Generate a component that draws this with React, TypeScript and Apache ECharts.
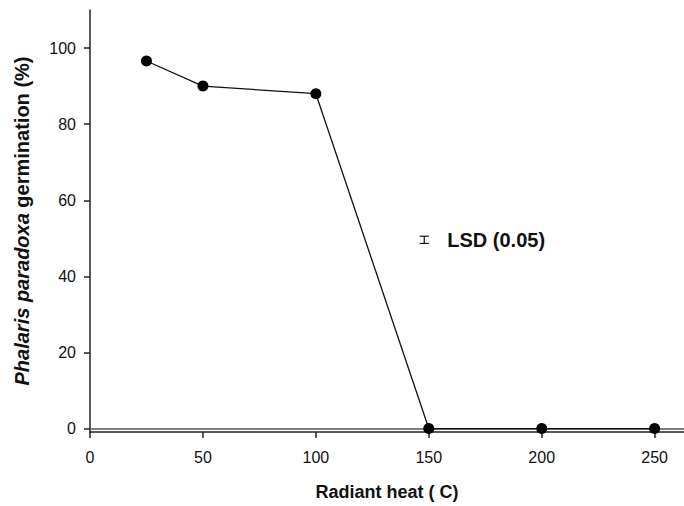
import React, { useEffect, useRef } from "react";
import * as echarts from "echarts";

const heat = [25, 50, 100, 150, 200, 250];
const germination = [96.6, 90.0, 88.0, 0, 0, 0];
const yTicks = [0, 20, 40, 60, 80, 100];
const xTicks = [0, 50, 100, 150, 200, 250];
const lsd = { x: 148, y: 49.6, half: 0.95, label: "LSD (0.05)" };

export default function App() {
  const ref = useRef<HTMLDivElement>(null);
  useEffect(() => {
    const chart = echarts.init(ref.current!, null, { renderer: "svg" });
    const font = "Liberation Sans, Arial, sans-serif";
    chart.setOption({
      animation: false,
      grid: { left: 90, right: 0, top: 10, bottom: 73.5 },
      xAxis: [
        {
          type: "value",
          min: 0,
          max: 263,
          axisLine: { show: true, onZero: false, lineStyle: { color: "#222", width: 1.5 } },
          axisTick: { show: true, length: 6, customValues: xTicks, lineStyle: { color: "#222", width: 1.5 } },
          axisLabel: { customValues: xTicks, fontSize: 16, color: "#111", fontFamily: font, margin: 17 },
          splitLine: { show: false },
          name: "Radiant heat ( C)",
          nameLocation: "middle",
          nameGap: 51,
          nameTextStyle: { fontSize: 18, fontWeight: "bold", color: "#111", fontFamily: font },
        },
        {
          type: "value",
          position: "top",
          min: 0,
          max: 263,
          axisLine: { show: true, lineStyle: { color: "#555", width: 1.5 } },
          axisTick: { show: false },
          axisLabel: { show: false },
          splitLine: { show: false },
        },
      ],
      yAxis: {
        type: "value",
        min: -0.9,
        max: 110,
        axisLine: { show: true, onZero: false, lineStyle: { color: "#222", width: 1.5 } },
        axisTick: { show: true, length: 6, customValues: yTicks, lineStyle: { color: "#222", width: 1.5 } },
        axisLabel: { customValues: yTicks, fontSize: 16, color: "#111", fontFamily: font, margin: 14 },
        splitLine: { show: false },
        name: "{i|Phalaris paradoxa} germination (%)",
        nameLocation: "middle",
        nameGap: 58,
        nameTextStyle: {
          fontSize: 20,
          fontWeight: "bold",
          color: "#111",
          fontFamily: font,
          rich: {
            i: { fontSize: 20, fontWeight: "bold", fontStyle: "italic", color: "#111", fontFamily: font },
          },
        },
      },
      series: [
        {
          type: "line",
          data: heat.map((h, i) => [h, germination[i]]),
          symbol: "circle",
          symbolSize: 11,
          lineStyle: { color: "#111", width: 1.3 },
          itemStyle: { color: "#000" },
          z: 3,
        },
        {
          type: "custom",
          data: [[lsd.x, lsd.y, lsd.half]],
          renderItem: (params: any, api: any) => {
            const x = api.value(0);
            const y = api.value(1);
            const h = api.value(2);
            const top = api.coord([x, y + h]);
            const bot = api.coord([x, y - h]);
            const mid = api.coord([x, y]);
            const cw = 4.5;
            const ls = { stroke: "#111", lineWidth: 1.2 };
            return {
              type: "group",
              children: [
                { type: "line", shape: { x1: top[0], y1: top[1], x2: bot[0], y2: bot[1] }, style: ls },
                { type: "line", shape: { x1: top[0] - cw, y1: top[1], x2: top[0] + cw, y2: top[1] }, style: ls },
                { type: "line", shape: { x1: bot[0] - cw, y1: bot[1], x2: bot[0] + cw, y2: bot[1] }, style: ls },
                {
                  type: "text",
                  x: mid[0] + 23,
                  y: mid[1],
                  style: {
                    text: lsd.label,
                    fill: "#111",
                    font: `bold 20px ${font}`,
                    verticalAlign: "middle",
                    align: "left",
                  },
                },
              ],
            };
          },
          z: 4,
        },
      ],
    });
    return () => chart.dispose();
  }, []);
  return <div ref={ref} style={{ width: 684, height: 506, position: "absolute", left: 0, top: 0 }} />;
}
